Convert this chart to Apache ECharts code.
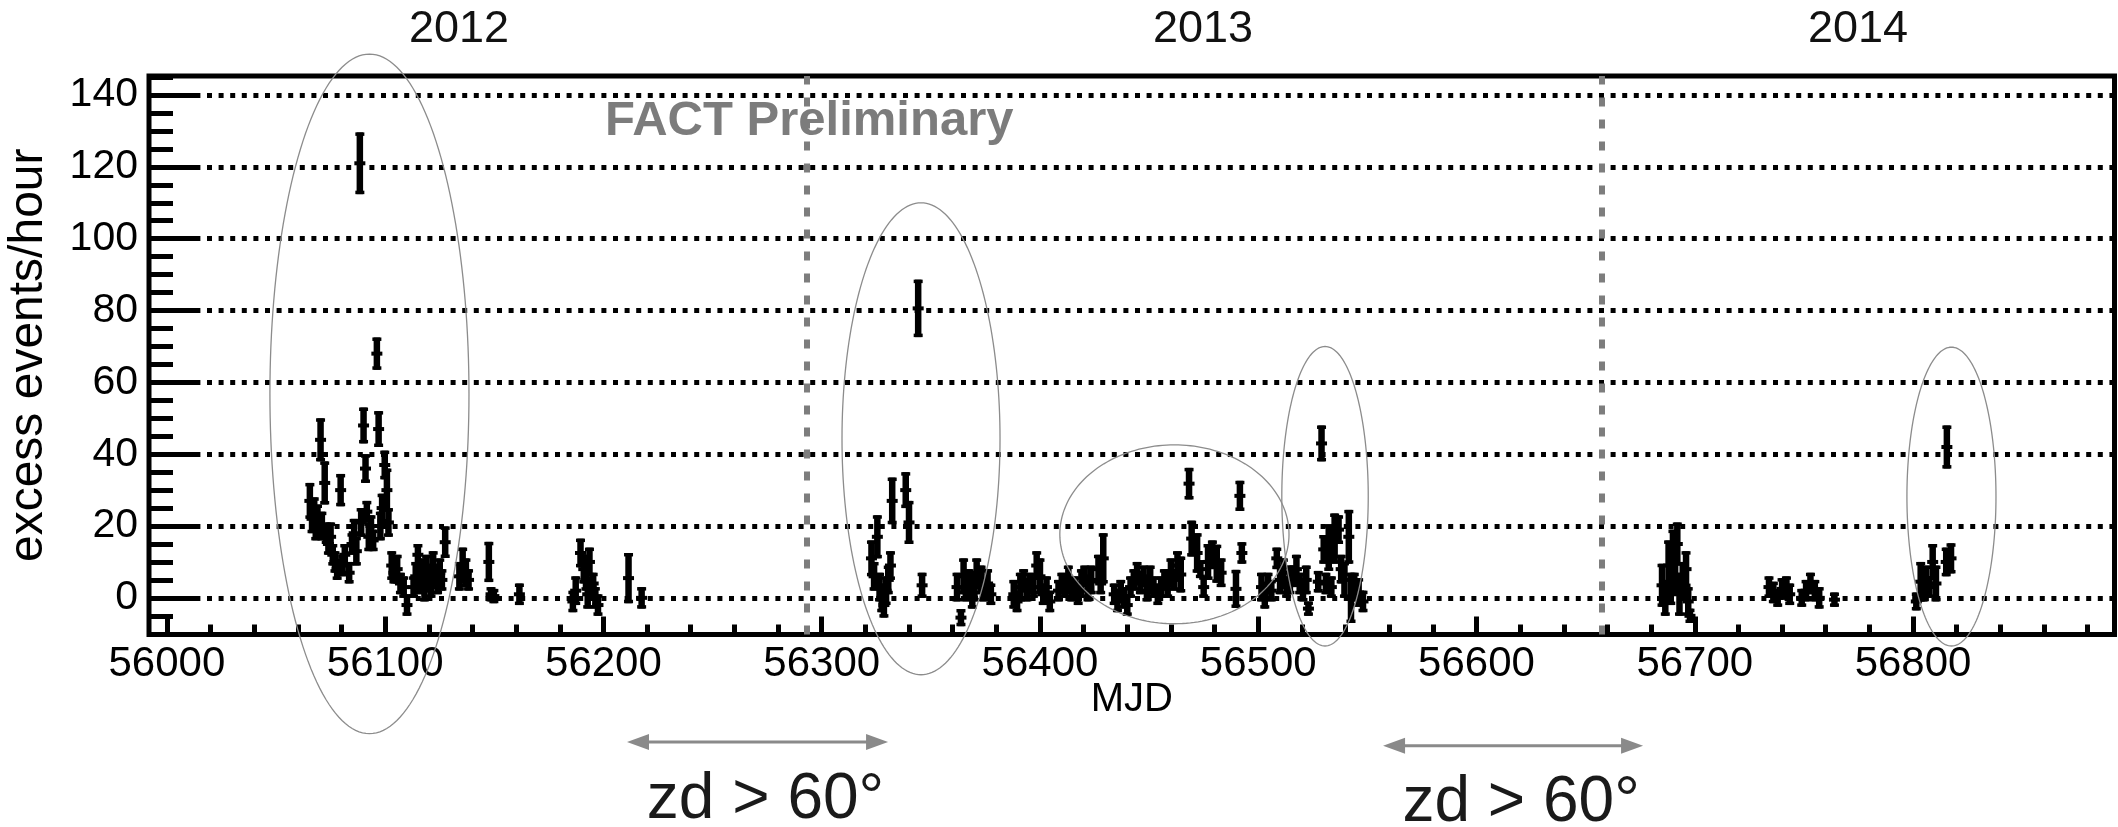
<!DOCTYPE html>
<html><head><meta charset="utf-8">
<script src="https://cdn.jsdelivr.net/npm/echarts@6/dist/echarts.min.js"></script>
<style>html,body{margin:0;padding:0;background:#fff}#c{width:2118px;height:827px}</style>
</head><body><div id="c"></div>
<script>
// ---- data (MJD, excess rate, error) ----
const mjd = [
 56065.5,56066.5,56067.5,56068.2,56069,56070.4,56071,56072.3,56073,56074,56075,56076,56077,56078,56079.6,56080.5,56081.5,56083.5,56084.8,56085.8,56086.8,56088.4,56089,56090.1,56091,56091.6,56092.5,56093.5,56094.5,56096.2,56097,56097.8,56098.6,56099.8,56100.8,56101.5,56103,56104,56105.5,56107,56108.5,56110,
 56113,56114,56115,56116,56117,56118,56119,56120,56121,56122,56123,56124,56125,56126,56127.5,56134,56135.5,56137,56138.2,56147.5,56148.5,56149.8,56161.5,
 56186,56187.3,56189.5,56191,56192,56192.8,56193.6,56194.4,56195.3,56196.3,56197.5,56211.5,56217.5,
 56322.8,56324,56325.5,56326.5,56327.5,56328.5,56329.5,56330.5,56331.5,56332.3,56338.5,56340,56344.2,56346,
 56362,56363.8,56365,56366,56367.5,56369,56370,56371,56373,56374,56376,56377.5,
 56388,56389.5,56391,56392.5,56394,56395.5,56397,56398.5,56400,56401.5,56403,56404.5,
 56408.5,56410,56411.5,56413,56414.5,56416,56417.5,56419,56420.5,56422,56423.5,56426.8,56427.8,56429,
 56434,56435.5,56437,56438.5,56440,56441.5,56443,56444.5,56446,56447.5,56449,56450.5,56452,
 56454,56455.5,56457,56458.5,56460,56461.5,56463,56464.5,
 56468.3,56469.5,56472,56473.5,56475,56477,56479,56481,56483,
 56489.8,56491.6,56492.5,
 56501.5,56503,56504.5,56506,56508.5,56510,56511.5,56513,56514.5,56516,56517.5,56519,56520.5,56522,56523,
 56527.5,56529,56530,56531,56532.3,56533.5,56535,56536.8,56538,56539.5,56541.5,56542.5,56544,56546,56548,
 56685,56686.5,56688,56689,56690,56691,56692,56693,56694.5,56696,56697,56697.8,
 56734,56736,56738,56740,56742,56743.5,56749,56751,56753,56755,56757,56764,
 56801.5,56803.5,56805,56806,56807.5,56809,56810.5,56815.5,56815.2,56817.4
];
const rate = [
 27,22,24,19,22,44,20,32,18,15,17,12,10,8,30,9,12,7,15,18,13,121,21,48,36,24,17,20,16,68,47,20,25,37,30,21,9,7,8,4,3,-2,
 3,6,12,4,7,2,8,5,3,9,6,4,7,5,15.5,6,9,7,5,10,1,0.5,1,
 -1,2,12.5,8,5,1,10,3,4,0,-2,5.5,0,
 11,6,17,3,0,-2,2,5,9,27,30,21,80.6,3.5,
 3,-5.5,6,2,4,0,3,7,5,2,4,1,
 1,-1,3,5,2,4,3,9,6,1,3,-1,
 2,4,3,5,2,3,1,4,6,2,5,8,4,11,
 1,-1,2,0,-2,3,5,7,4,6,2,5,3,
 1,3,5,4,7,5,9,6.5,
 31.8,16.5,12.5,8,3,10,12,9.5,7,
 2.5,28.4,12.5,
 3,0,4,2,11,5,7,3,5,6,8,4,2,5,-3,
 4.5,43,13.5,4,14,3,16.5,19,8,5,17,0,3,1.5,-1,
 3.5,0,9,4,12,6,15,1,5,8,-1,-5,
 3,1.5,0,2.5,3,1,0,2,4,2,0,-0.5,
 -1,4.5,2,5,3,10,4,42,10,11
];
const err = [
 5,4,4,3,4,6,4,6,3,3,4,3,3,3,4.5,3,3,3,3,4,4,8.6,4,5,4,3,4,3,3,4.5,5,4,4,4,6,4,4,3,4,3,3,3,
 3,4,3,3,4,3,4,3,3,4,3,3,4,3,4.4,4,5,4,3,5.6,2,2,3,
 3,4,4,4,3,4,4,3,3,3,3,7,3,
 5,4,6,4,4,3.5,4,4,4,6.5,5,6,8,3.5,
 4,2.4,5,3,4,3,4,4,4,3,4,3,
 4,3,4,3,3,3,3,4,5,3,3,3,
 3,3,3,4,3,3,3,4,3,3,4,4,3,7,
 3,3,3,3,3,3,3,3,3,3,3,4,3,
 3,3,3,4,4,3,4,5,
 4.4,5,5.5,2.5,3,5,4,5.3,4,
 5.3,4.2,3,
 4,3,3,3,3,4,4,3,4,3,4,3,3,4,2,
 3,5,4,3,6.5,3,7,4,4,5,7.5,7,4,4,3,
 6,5,7,6,7,5,6,6,5,5,4,2,
 3,3,2.5,3,3,3,2.5,3,3,3,3,2,
 2.5,5.5,3,4,3,5,5,6,4,4.2
];
// ---- axis ticks / labels ----
const xMajorTicks = [56000,56100,56200,56300,56400,56500,56600,56700,56800];
const xMinorTicks = [];
for (let v = 56000; v <= 56880; v += 20) xMinorTicks.push(v);
const yMajorTicks = [0,20,40,60,80,100,120,140];
const yMinorTicks = [];
for (let v = -10; v <= 145; v += 5) yMinorTicks.push(v);
const xRange = [55991.8, 56892.3];
const yRange = [-10.2, 145.3];
// ---- annotations ----
const seasonBreaks = [56293.3, 56657.5];
const yearLabels = ['2012', '2013', '2014'];
const highlightEllipses = [ // centre MJD, centre rate, half-width MJD, half-height rate
 [56092.8, 56.8, 45.6, 94.6],
 [56345.5, 44.3, 36.2, 65.7],
 [56461.6, 17.7, 52.5, 24.9],
 [56530.6, 28.3, 19.8, 41.7],
 [56817.6, 28.2, 20.4, 41.6]
];
const zdArrows = [[56210.8, 56330.4, -40.1], [56557.2, 56676.3, -41.2]];
const zdText = 'zd > 60°';

const FONT = "'Liberation Sans', Arial, Helvetica, sans-serif";
const points = mjd.map((m, i) => [m, rate[i], err[i]]);

const chart = echarts.init(document.getElementById('c'), null, {renderer: 'canvas'});
const gridRect = {left: 149, top: 76, right: 3.5, bottom: 192.5};

const option = {
  animation: false,
  backgroundColor: '#fff',
  textStyle: {fontFamily: FONT},
  grid: Object.assign({show: true, borderColor: '#000', borderWidth: 5, backgroundColor: 'transparent', outerBoundsMode: 'none', containLabel: false}, gridRect),
  xAxis: [{
    type: 'value', min: xRange[0], max: xRange[1], position: 'bottom',
    axisLine: {show: false, onZero: false},
    axisTick: {show: true, inside: true, length: 18, customValues: xMajorTicks, lineStyle: {color: '#000', width: 5}},
    axisLabel: {show: true, customValues: xMajorTicks, fontSize: 42, color: '#000', margin: 9, fontFamily: FONT,
      formatter: v => String(Math.round(v))},
    splitLine: {show: false},
    name: 'MJD', nameLocation: 'middle', nameGap: 45, nameMoveOverlap: false,
    nameTextStyle: {fontSize: 40, color: '#000', fontFamily: FONT}
  }, {
    type: 'value', min: xRange[0], max: xRange[1], position: 'bottom',
    axisLine: {show: false, onZero: false},
    axisTick: {show: true, inside: true, length: 10, customValues: xMinorTicks, lineStyle: {color: '#000', width: 5}},
    axisLabel: {show: false}, splitLine: {show: false}
  }],
  yAxis: [{
    type: 'value', min: yRange[0], max: yRange[1], position: 'left',
    axisLine: {show: false, onZero: false},
    axisTick: {show: true, inside: true, length: 51, customValues: yMajorTicks, lineStyle: {color: '#000', width: 5}},
    axisLabel: {show: true, customValues: yMajorTicks, fontSize: 41, color: '#000', margin: 11, fontFamily: FONT,
      formatter: v => String(Math.round(v))},
    splitLine: {show: false},
    name: 'excess events/hour', nameLocation: 'middle', nameRotate: 90, nameGap: 96,
    nameTextStyle: {fontSize: 48, color: '#000', fontFamily: FONT}
  }, {
    type: 'value', min: yRange[0], max: yRange[1], position: 'left',
    axisLine: {show: false, onZero: false},
    axisTick: {show: true, inside: true, length: 24, customValues: yMinorTicks, lineStyle: {color: '#000', width: 5}},
    axisLabel: {show: false}, splitLine: {show: false}
  }],
  series: [{
    type: 'line', data: [], xAxisIndex: 0, yAxisIndex: 0, z: 1, silent: true,
    markLine: {
      silent: true, symbol: 'none', animation: false,
      label: {show: false},
      lineStyle: {color: '#000', width: 5, type: [5, 6.6]},
      data: yMajorTicks.map(v => ({yAxis: v}))
    }
  }, {
    type: 'line', data: [], xAxisIndex: 0, yAxisIndex: 0, z: 2, silent: true,
    markLine: {
      silent: true, symbol: 'none', animation: false,
      label: {show: false},
      lineStyle: {color: '#7d7d7d', width: 6, type: [9, 13]},
      data: seasonBreaks.map(v => ({xAxis: v}))
    }
  }, {
    type: 'custom', xAxisIndex: 0, yAxisIndex: 0, z: 5, silent: true,
    data: points, encode: {x: 0, y: 1},
    renderItem(params, api) {
      const x = api.value(0), y = api.value(1), e = api.value(2);
      const p = api.coord([x, y]), t = api.coord([x, y + e]), b = api.coord([x, y - e]);
      const w = 6.5;
      return {type: 'group', children: [
        {type: 'rect', shape: {x: p[0] - w / 2, y: t[1], width: w, height: Math.max(b[1] - t[1], 3)}, style: {fill: '#000'}},
        {type: 'rect', shape: {x: p[0] - 4.5, y: t[1], width: 9, height: 3.5}, style: {fill: '#000'}},
        {type: 'rect', shape: {x: p[0] - 4.5, y: b[1] - 3.5, width: 9, height: 3.5}, style: {fill: '#000'}},
        {type: 'rect', shape: {x: p[0] - 5.5, y: p[1] - 2, width: 11, height: 4}, style: {fill: '#000'}}
      ]};
    }
  }, {
    type: 'custom', xAxisIndex: 0, yAxisIndex: 0, z: 6, silent: true, clip: false,
    data: highlightEllipses, encode: {x: 0, y: 1},
    renderItem(params, api) {
      const c = api.coord([api.value(0), api.value(1)]);
      const s = api.size([api.value(2), api.value(3)]);
      const pts = [];
      for (let k = 0; k <= 180; k++) {
        const a = k / 180 * 2 * Math.PI;
        pts.push([c[0] + s[0] * Math.cos(a), c[1] + s[1] * Math.sin(a)]);
      }
      return {type: 'polyline', shape: {points: pts}, style: {stroke: '#8c8c8c', lineWidth: 1.3, fill: null}};
    }
  }, {
    type: 'custom', xAxisIndex: 0, yAxisIndex: 0, z: 6, silent: true, clip: false,
    data: zdArrows, encode: {x: [0, 1], y: 2},
    renderItem(params, api) {
      const a = api.coord([api.value(0), api.value(2)]);
      const b = api.coord([api.value(1), api.value(2)]);
      const hl = 22, hh = 8, col = '#8a8a8a';
      return {type: 'group', children: [
        {type: 'line', shape: {x1: a[0] + hl - 2, y1: a[1], x2: b[0] - hl + 2, y2: b[1]}, style: {stroke: col, lineWidth: 3}},
        {type: 'polygon', shape: {points: [[a[0], a[1]], [a[0] + hl, a[1] - hh], [a[0] + hl, a[1] + hh]]}, style: {fill: col}},
        {type: 'polygon', shape: {points: [[b[0], b[1]], [b[0] - hl, b[1] - hh], [b[0] - hl, b[1] + hh]]}, style: {fill: col}},
        {type: 'text', style: {text: zdText, x: (a[0] + b[0]) / 2 + 8, y: a[1] + 58, align: 'center', verticalAlign: 'middle', font: '64px ' + FONT, fill: '#1a1a1a'}}
      ]};
    }
  }],
  graphic: [
    {type: 'text', style: {text: yearLabels[0], x: 459, y: 30, align: 'center', verticalAlign: 'middle', font: '45px ' + FONT, fill: '#111'}},
    {type: 'text', style: {text: yearLabels[1], x: 1203, y: 30, align: 'center', verticalAlign: 'middle', font: '45px ' + FONT, fill: '#111'}},
    {type: 'text', style: {text: yearLabels[2], x: 1858, y: 30, align: 'center', verticalAlign: 'middle', font: '45px ' + FONT, fill: '#111'}},
    {type: 'text', z: 10, style: {text: 'FACT Preliminary', x: 605, y: 121, align: 'left', verticalAlign: 'middle', font: 'bold 49px ' + FONT, fill: '#7c7c7c'}}
  ]
};
chart.setOption(option);
</script></body></html>
